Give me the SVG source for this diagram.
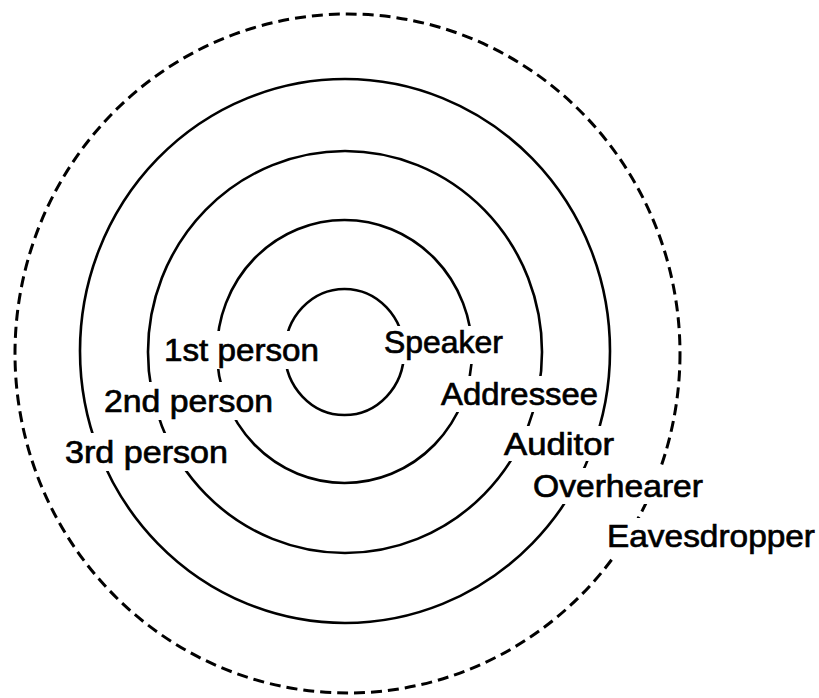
<svg xmlns="http://www.w3.org/2000/svg" width="819" height="698" viewBox="0 0 819 698">
<style>
.ring{fill:none;stroke:#000;stroke-width:2.6}
.dash{fill:none;stroke:#000;stroke-width:3;stroke-dasharray:11 6}
.ko{fill:#fff;stroke:none}
.lbl{font-family:"Liberation Sans",Arial,Helvetica,sans-serif;font-size:32px;fill:#000;stroke:#000;stroke-width:0.7}
</style>
<rect width="819" height="698" fill="#fff"/>
<g id="rings">
<g id="ring-eavesdropper"><ellipse class="dash" cx="347.5" cy="353.5" rx="332.5" ry="339.5"/></g>
<g id="ring-overhearer"><ellipse class="ring" cx="345" cy="351" rx="265" ry="272"/></g>
<g id="ring-auditor"><ellipse class="ring" cx="345" cy="352" rx="197" ry="201"/></g>
<g id="ring-addressee"><ellipse class="ring" cx="344.5" cy="351.5" rx="127.5" ry="131.5"/></g>
<g id="ring-speaker"><ellipse class="ring" cx="344.5" cy="352" rx="59.5" ry="63"/></g>
</g>
<g id="connectors"/>
<g id="label-1st"><rect class="ko" x="160" y="331" width="162" height="38"/><text class="lbl" x="164" y="361" textLength="155" lengthAdjust="spacingAndGlyphs">1st person</text></g>
<g id="label-2nd"><rect class="ko" x="101" y="382" width="175" height="38"/><text class="lbl" x="104" y="412" textLength="169" lengthAdjust="spacingAndGlyphs">2nd person</text></g>
<g id="label-3rd"><rect class="ko" x="62" y="433" width="169" height="38"/><text class="lbl" x="65" y="463" textLength="163" lengthAdjust="spacingAndGlyphs">3rd person</text></g>
<g id="label-speaker"><rect class="ko" x="380" y="326" width="126" height="38"/><text class="lbl" x="384" y="353" textLength="119" lengthAdjust="spacingAndGlyphs">Speaker</text></g>
<g id="label-addressee"><rect class="ko" x="437" y="376" width="164" height="36"/><text class="lbl" x="441" y="405" textLength="157" lengthAdjust="spacingAndGlyphs">Addressee</text></g>
<g id="label-auditor"><rect class="ko" x="500" y="426" width="117" height="35"/><text class="lbl" x="504" y="455" textLength="110" lengthAdjust="spacingAndGlyphs">Auditor</text></g>
<g id="label-overhearer"><rect class="ko" x="530" y="468" width="176" height="36"/><text class="lbl" x="533" y="497" textLength="170" lengthAdjust="spacingAndGlyphs">Overhearer</text></g>
<g id="label-eavesdropper"><rect class="ko" x="604" y="518" width="215" height="38"/><text class="lbl" x="607" y="547" textLength="208" lengthAdjust="spacingAndGlyphs">Eavesdropper</text></g>
</svg>
